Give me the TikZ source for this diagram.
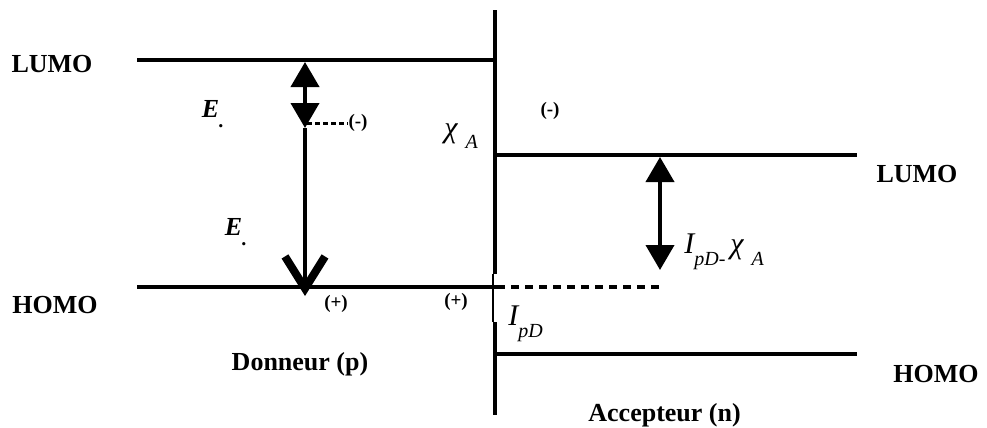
\documentclass[tikz,border=0pt]{standalone}
\usepackage{fontspec}
\setmainfont{Liberation Serif}
\usetikzlibrary{arrows.meta}

\newcommand{\lowsub}[1]{\raisebox{-0.4em}{\fontsize{10}{11}\selectfont #1}}

\tikzset{
  level/.style={line width=2pt},
  lab/.style={inner sep=0pt,font=\fontsize{13}{15}\selectfont\bfseries},
  chg/.style={inner sep=0pt,font=\fontsize{9.5}{11}\selectfont\bfseries},
  sym/.style={inner sep=0pt,font=\fontsize{15}{17}\selectfont\itshape},
  gaparrow/.style={line width=2pt,
    {Triangle[length=12.5pt,width=14pt]}-{Triangle[length=12.5pt,width=14pt]}},
  vtip/.style={line width=2pt,-{Straight Barb[length=16pt,width=20pt,line width=4pt]}},
}

\begin{document}
\begin{tikzpicture}[x=0.5pt,y=-0.5pt]
  \useasboundingbox (0,0) rectangle (987,428);

  % energy levels
  \coordinate (dLumoL) at (137,60);  \coordinate (dLumoR) at (497,60);
  \coordinate (dHomoL) at (137,287); \coordinate (dHomoR) at (497,287);
  \coordinate (aLumoL) at (497,155); \coordinate (aLumoR) at (857,155);
  \coordinate (aHomoL) at (497,354); \coordinate (aHomoR) at (857,354);
  \draw[level] (dLumoL) -- (dLumoR);
  \draw[level] (dHomoL) -- (dHomoR);
  \draw[level] (aLumoL) -- (aLumoR);
  \draw[level] (aHomoL) -- (aHomoR);
  % interface, thinner where the dashed level meets it
  \coordinate (ifTop) at (495,10);   \coordinate (ifBot) at (495,415);
  \coordinate (ifA) at (495,274);    \coordinate (ifB) at (495,322);
  \draw[level] (ifTop) -- (ifA);
  \draw[line width=1pt] ([xshift=-1]ifA) -- ([xshift=-1]ifB);
  \draw[level] (ifB) -- (ifBot);
  \coordinate (ipEnd) at (663,287);
  \draw[line width=2pt,dash pattern=on 4pt off 3pt] (dHomoR) -- (ipEnd);

  % level names
  \node[lab,anchor=base] (lumoD) at (52,72) {LUMO};
  \node[lab,anchor=base] (homoD) at (55,313) {HOMO};
  \node[lab,anchor=base] (lumoA) at (917,182) {LUMO};
  \node[lab,anchor=base] (homoA) at (936,382) {HOMO};
  \node[lab,anchor=base] (donneur) at (300,370) {Donneur (p)};
  \node[lab,anchor=base west] (accept) at (588,421) {Accepteur (n)};

  % donor gap
  \coordinate (egTop) at (305,62);
  \coordinate (egMid) at (305,128);
  \coordinate (egBot) at (305,296);
  \draw[gaparrow] (egMid) -- (egTop);
  \draw[vtip] (egMid) -- (egBot);
  \node[lab,anchor=base,font=\fontsize{13}{15}\selectfont\bfseries\itshape] (eOne) at (213,117) {E\lowsub{.}};
  \node[lab,anchor=base,font=\fontsize{13}{15}\selectfont\bfseries\itshape] (eTwo) at (236,235) {E\lowsub{.}};
  \node[chg] (elecD) at (358,123) {(-)};
  \draw[line width=1.5pt,dash pattern=on 2.5pt off 1.5pt] (egMid |- elecD) ++(2,0) -- (elecD.west);
  \node[chg] (holeD) at (336,304) {(+)};
  \node[chg] (holeA) at (456,302) {(+)};
  \node[chg] (elecA) at (550,111) {(-)};

  % acceptor side
  \node[sym,anchor=base west] (chiA) at (444,137) {χ\lowsub{\itshape\hspace{0.4em}A}};
  \coordinate (gapTop) at (660,157);
  \coordinate (gapBot) at (660,270);
  \draw[gaparrow] (gapBot) -- (gapTop);
  \node[sym,anchor=base west] (gapLab) at (684,253) {I\lowsub{\itshape pD-}\,χ\lowsub{\itshape\hspace{0.4em}A}};
  \node[sym,anchor=base west] (ipLab) at (508,325) {I\lowsub{\itshape pD}};
\end{tikzpicture}
\end{document}
